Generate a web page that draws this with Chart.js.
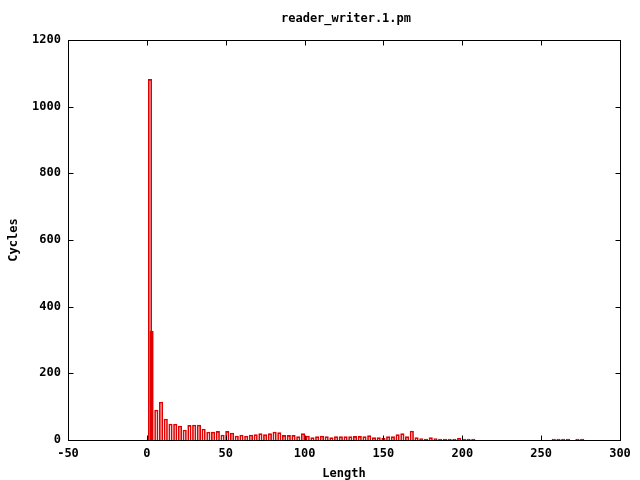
<!DOCTYPE html>
<html>
<head>
<meta charset="utf-8">
<script src="https://cdn.jsdelivr.net/npm/chart.js@4"></script>
<style>
  html, body { margin: 0; padding: 0; background: #fff; }
  #wrap { width: 640px; height: 480px; }
</style>
</head>
<body>
<div id="wrap"><canvas id="chart" width="640" height="480"></canvas></div>
<script>
// ===========================
// Data
// ===========================
const lengths = [2, 3, 6, 9, 12, 15, 18, 21, 24, 27, 30, 33, 36, 39, 42, 45, 48, 51, 54, 57,
  60, 63, 66, 69, 72, 75, 78, 81, 84, 87, 90, 93, 96, 99, 102, 105, 108, 111, 114, 117,
  120, 123, 126, 129, 132, 135, 138, 141, 144, 147, 150, 153, 156, 159, 162, 165, 168, 171, 174, 177,
  180, 183, 186, 189, 192, 195, 198, 201, 204, 207, 258, 261, 264, 267, 273, 276];
const cycles = [1082, 327, 90, 114, 63, 48, 48, 42, 30, 44, 45, 45, 33, 24, 24, 26, 15, 26, 21, 12,
  15, 12, 15, 16, 19, 16, 19, 24, 22, 14, 14, 14, 10, 19, 12, 7, 10, 12, 10, 7,
  10, 10, 10, 10, 11, 11, 10, 13, 7, 7, 5, 10, 10, 16, 19, 10, 27, 7, 4, 3,
  7, 4, 3, 3, 3, 3, 5, 3, 3, 3, 3, 3, 3, 3, 3, 3];
const xTicks = [-50, 0, 50, 100, 150, 200, 250, 300];
const yTicks = [0, 200, 400, 600, 800, 1000, 1200];
const chartTitle = "reader_writer.1.pm";

const font = { family: "'DejaVu Sans Mono', monospace", size: 12, weight: "bold" };

// gnuplot style: title over the plot box, box border, inward ticks on all four sides
const borderTicks = {
  id: "borderTicks",
  afterDraw(chart) {
    const { ctx, chartArea: a, scales } = chart;
    const L = Math.round(a.left) + 0.5, R = Math.round(a.right) + 0.5;
    const T = Math.round(a.top) + 0.5, B = Math.round(a.bottom) + 0.5;
    ctx.save();
    ctx.fillStyle = "#000";
    ctx.font = "bold 12px 'DejaVu Sans Mono', monospace";
    ctx.textAlign = "center";
    ctx.textBaseline = "middle";
    ctx.fillText(chartTitle, (a.left + a.right) / 2 + 2, 19);
    ctx.strokeStyle = "#000";
    ctx.lineWidth = 1;
    ctx.strokeRect(L, T, R - L, B - T);
    ctx.beginPath();
    xTicks.forEach(v => {
      const px = Math.round(scales.x.getPixelForValue(v)) + 0.5;
      ctx.moveTo(px, B); ctx.lineTo(px, B - 5);
      ctx.moveTo(px, T); ctx.lineTo(px, T + 5);
    });
    yTicks.forEach(v => {
      const py = Math.round(scales.y.getPixelForValue(v)) + 0.5;
      ctx.moveTo(L, py); ctx.lineTo(L + 5, py);
      ctx.moveTo(R, py); ctx.lineTo(R - 5, py);
    });
    ctx.stroke();
    ctx.restore();
  }
};

new Chart(document.getElementById("chart"), {
  type: "bar",
  data: {
    datasets: [{
      data: lengths.map((x, i) => ({ x: x, y: cycles[i] })),
      backgroundColor: "rgba(255,255,255,0)",
      borderColor: "#e00000",
      borderWidth: 1,
      barThickness: 3.5
    }]
  },
  options: {
    responsive: false,
    animation: false,
    layout: { padding: { top: 40, left: 0, right: 20, bottom: 0 } },
    plugins: {
      legend: { display: false },
      tooltip: { enabled: false },
      title: { display: false }
    },
    scales: {
      x: {
        type: "linear",
        offset: false,
        min: -50, max: 300,
        afterBuildTicks: s => { s.ticks = xTicks.map(v => ({ value: v })); },
        afterFit: s => { s.height = 40; },
        grid: { display: false, drawTicks: false, offset: false },
        border: { display: false },
        ticks: { color: "#000", font: font, padding: 7, maxRotation: 0, callback: v => String(v) },
        title: { display: true, text: "Length", color: "#000", font: font, padding: { top: 0, bottom: -1 } }
      },
      y: {
        min: 0, max: 1200,
        afterBuildTicks: s => { s.ticks = yTicks.map(v => ({ value: v })); },
        afterFit: s => { s.width = 68; },
        grid: { display: false, drawTicks: false },
        border: { display: false },
        ticks: { color: "#000", font: font, padding: 7, callback: v => String(v) },
        title: { display: true, text: "Cycles", color: "#000", font: font, padding: { top: 7, bottom: 0 } }
      }
    }
  },
  plugins: [borderTicks]
});
</script>
</body>
</html>
